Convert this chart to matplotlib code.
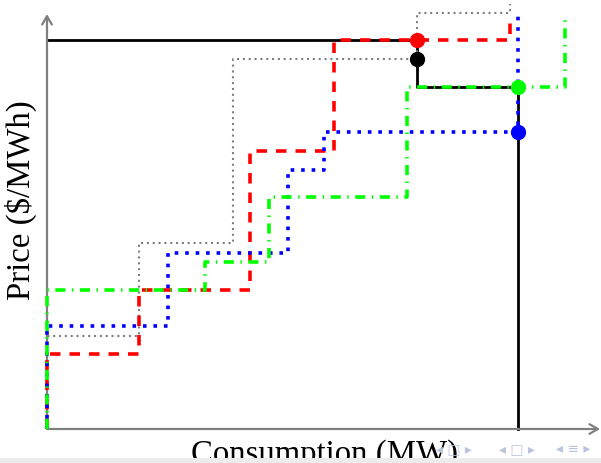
import matplotlib
matplotlib.use("Agg")
import matplotlib.pyplot as plt
from matplotlib.patches import Rectangle

# bid curves (arbitrary units, origin at the axes corner)
# q = quantity breakpoints, p = price of each step, top = where the last riser ends
gray_q = [0, 92, 186, 370, 463]
gray_p = [93, 186, 370, 416]
gray_top = 425

red_q = [0, 92, 203, 287, 463]
red_p = [75, 139, 278, 389]
red_top = 406

blue_q = [0, 121, 241, 277, 471]
blue_p = [103, 176, 259, 297]
blue_top = 416

green_q = [0, 158, 222, 360, 518]
green_p = [139, 167, 232, 342]
green_top = 414

# aggregated (black) curve
black_x = [0, 370, 370, 471, 471]
black_y = [389, 389, 342, 342, 0]

# cleared points
dot_x = [370, 370, 471, 471]
dot_y = [389, 370, 342, 297]
dot_colors = ["#ff0000", "black", "#00ff00", "#0000ff"]

x_max, y_max = 553, 415


def staircase(q, p, top):
    xs, ys = [0], [0]
    for i, price in enumerate(p):
        xs += [q[i], q[i + 1]]
        ys += [price, price]
    xs.append(q[-1])
    ys.append(top)
    return xs, ys


W, H = 601, 464
fig = plt.figure(figsize=(W / 100, H / 100), dpi=100)
ax = fig.add_axes([47 / W, 34 / H, x_max / W, y_max / H])
ax.set_xlim(0, x_max)
ax.set_ylim(0, y_max)
ax.axis("off")

# axes with arrow heads
axis_col = "#808080"
for tip in [(0, y_max), (x_max, 0)]:
    ax.annotate("", xy=tip, xytext=(0, 0),
                arrowprops=dict(arrowstyle="->,head_length=0.6,head_width=0.35",
                                color=axis_col, lw=1.6, shrinkA=0, shrinkB=0))

ax.plot(black_x, black_y, color="black", lw=2.0, clip_on=False, zorder=2)

xs, ys = staircase(gray_q, gray_p, gray_top)
ax.plot(xs, ys, color="#808080", lw=1.5, dashes=(1, 1.8),
        dash_capstyle="butt", clip_on=False, zorder=3)

xs, ys = staircase(red_q, red_p, red_top)
ax.plot(xs, ys, color="#ff0000", lw=2.6, dashes=(2.9, 2.5),
        dash_capstyle="butt", clip_on=False, zorder=3)

xs, ys = staircase(blue_q, blue_p, blue_top)
ax.plot(xs, ys, color="#0000ff", lw=2.6, dashes=(1, 1.9),
        dash_capstyle="butt", clip_on=False, zorder=3)

xs, ys = staircase(green_q, green_p, green_top)
ax.plot(xs, ys, color="#00ff00", lw=2.6, dashes=(2.8, 1.8, 0.4, 1.8),
        dash_capstyle="butt", clip_on=False, zorder=3)

for x, y, c in zip(dot_x, dot_y, dot_colors):
    ax.plot(x, y, "o", color=c, ms=10, clip_on=False, zorder=5)

fig.text(21 / W, 1 - 200 / H, "Price ($/MWh)", rotation=90,
         ha="center", va="center", fontsize=23.6, family="Liberation Serif")
fig.text(324.5 / W, 1 / H, "Consumption (MW)", ha="center", va="baseline",
         fontsize=23.6, family="Liberation Serif")

# beamer navigation symbols
nav_col = "#bcc4dc"
for cx, sym in [(454, "◂ □ ▸"), (517, "◂ □ ▸"), (573, "◂ ≡ ▸")]:
    fig.text(cx / W, 1 - 449 / H, sym, ha="center", va="center",
             fontsize=10, color=nav_col, family="DejaVu Sans")

# grey strip at the bottom of the slide
fig.add_artist(Rectangle((0, 0), 1, 5 / H, transform=fig.transFigure,
                         facecolor="#ececec", edgecolor="none", zorder=10))

fig.savefig("out.png", dpi=100)
